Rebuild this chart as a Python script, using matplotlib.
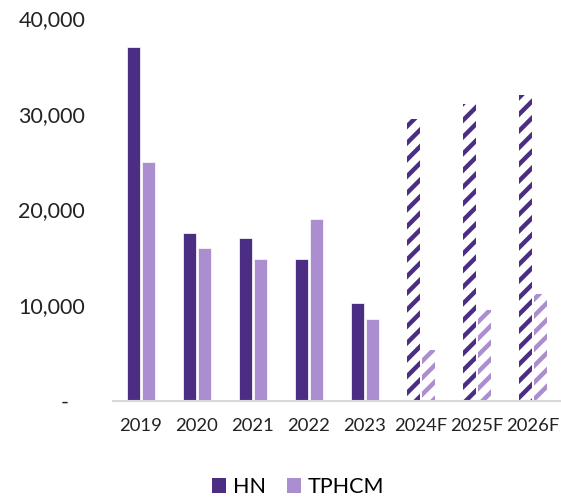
import matplotlib
matplotlib.use("Agg")
import matplotlib.pyplot as plt
import numpy as np
from matplotlib.patches import Patch

plt.rcParams['font.family'] = ['Lato', 'DejaVu Sans']
plt.rcParams['hatch.linewidth'] = 3.2

categories = ["2019", "2020", "2021", "2022", "2023", "2024F", "2025F", "2026F"]
hn = [37000, 17500, 17000, 14800, 10200, 29500, 31000, 32000]
tphcm = [25000, 16000, 14800, 19000, 8600, 5300, 9500, 11200]
forecast = [False, False, False, False, False, True, True, True]
yticks = [0, 10000, 20000, 30000, 40000]
ytick_labels = ["-   ", "10,000", "20,000", "30,000", "40,000"]

c_hn = "#4B2E83"
c_tp = "#AB8ED0"

fig = plt.figure(figsize=(5.61, 4.97), dpi=100)
ax = fig.add_axes([0.2014, 0.1932, 0.7986, 0.7706])

x = np.arange(len(categories))
w = 0.22
off = 0.135
for i in range(len(categories)):
    for val, col, sgn in ((hn[i], c_hn, -1), (tphcm[i], c_tp, 1)):
        if forecast[i]:
            ax.bar(x[i] + sgn * off, val, width=w, facecolor="white",
                   edgecolor=col, hatch="//", linewidth=0)
        else:
            ax.bar(x[i] + sgn * off, val, width=w, color=col,
                   edgecolor="white", linewidth=0.5)

ax.set_xlim(-0.5, 7.5)
ax.set_ylim(0, 40000)
ax.set_xticks(x)
ax.set_xticklabels(categories, fontsize=13.3, color="#222222")
ax.set_yticks(yticks)
ax.set_yticklabels(ytick_labels, fontsize=15.5, color="#222222")
ax.tick_params(axis="both", length=0)
ax.tick_params(axis="y", pad=20)
ax.tick_params(axis="x", pad=12.5)
for s in ("top", "right", "left"):
    ax.spines[s].set_visible(False)
ax.spines["bottom"].set_color("#D9D9D9")
ax.spines["bottom"].set_linewidth(1.5)

handles = [Patch(facecolor=c_hn, edgecolor="none", label="HN"),
           Patch(facecolor=c_tp, edgecolor="none", label="TPHCM")]
fig.legend(handles=handles, loc="center", bbox_to_anchor=(0.532, 0.02),
           ncol=2, frameon=False, fontsize=15.5, handlelength=0.65,
           handleheight=0.65, handletextpad=0.3, columnspacing=1.0)

fig.savefig("out.png", dpi=100)
